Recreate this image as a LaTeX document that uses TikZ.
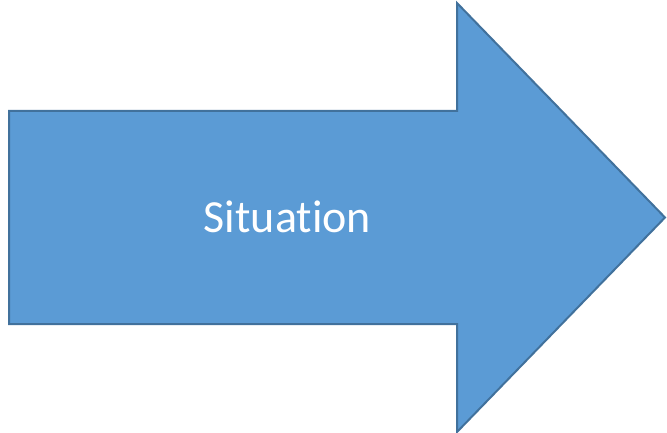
\documentclass[tikz,border=0pt]{standalone}
\usepackage{fontspec}
\setmainfont{Carlito}[Ligatures=NoCommon]
\usetikzlibrary{positioning}
\definecolor{arrowfill}{HTML}{5B9BD5}
\definecolor{arrowline}{HTML}{41719C}

\begin{document}
\begin{tikzpicture}[x=1pt, y=-1pt,
    bigarrow/.style={fill=arrowfill, draw=arrowline, line width=2pt, line join=miter},
    arrowlabel/.style={text=white, font=\fontsize{46}{55}\selectfont, anchor=base}]
    \useasboundingbox (0,0) rectangle (667,433);

    % ---------------- BLOCK ARROW ----------------
    \draw[bigarrow] (9,111) -- (457,111) -- (457,3) -- (665,217.5)
        -- (457,432) -- (457,324) -- (9,324) -- cycle;

    % Label
    \node[arrowlabel] (situation) at (287.5,233) {Situation};
\end{tikzpicture}
\end{document}
